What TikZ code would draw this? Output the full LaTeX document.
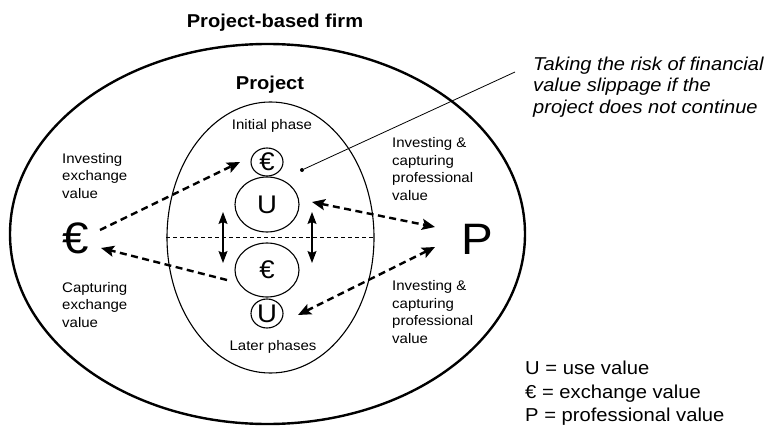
\documentclass[tikz,border=0pt]{standalone}
\usepackage{fontspec}
\setmainfont{Liberation Sans}[FakeStretch=1.08]
\usetikzlibrary{arrows.meta,shapes.geometric}
\begin{document}
\begin{tikzpicture}[x=1pt,y=-1pt,
  lbl/.style={font=\fontsize{13.9}{17.7}\selectfont, align=left, anchor=west, inner sep=0},
  phase/.style={font=\fontsize{13.9}{16}\selectfont, inner sep=0},
  heading/.style={font=\fontsize{18.6}{20}\selectfont\bfseries, inner sep=0},
  bigsym/.style={font=\fontsize{44}{44}\selectfont, inner sep=0},
  valcirc/.style={draw, ellipse, line width=1.1pt, inner sep=0, font=\fontsize{25.5}{25.5}\selectfont},
  thickdash/.style={line width=2.4pt, dash pattern=on 7pt off 4.5pt},
  tipend/.style={-{Stealth[length=13pt,width=11pt,inset=2.5pt]}},
  tipboth/.style={{Stealth[length=13pt,width=11pt,inset=2.5pt]}-{Stealth[length=13pt,width=11pt,inset=2.5pt]}},
  solidboth/.style={line width=1.1pt,{Stealth[length=12pt,width=9pt,inset=2pt]}-{Stealth[length=12pt,width=9pt,inset=2pt]}}
]
\useasboundingbox (0,0) rectangle (767,425);

% ellipses
\node[draw, ellipse, line width=2.4pt, minimum width=515pt, minimum height=380pt, inner sep=0] (firm) at (267.5,234) {};
\node[draw, ellipse, line width=1.1pt, minimum width=207pt, minimum height=271pt, inner sep=0] (project) at (270.5,237.5) {};

% headings
\node[heading] (firmtitle) at (275,23) {Project-based firm};
\node[heading] (projtitle) at (270,85) {Project};
\node[phase] (initial) at (272,126) {Initial phase};
\node[phase] (later) at (273,347) {Later phases};

% value circles
\node[valcirc, minimum width=32pt, minimum height=28pt] (euroA) at (267,162) {€};
\node[valcirc, minimum width=64pt, minimum height=55pt] (useA) at (267,204.5) {U};
\node[valcirc, minimum width=64pt, minimum height=54pt] (euroB) at (267,270) {€};
\node[valcirc, minimum width=32pt, minimum height=29pt] (useB) at (267,313.5) {U};

% phase separator
\draw[line width=0.8pt, dash pattern=on 4pt off 3pt] (project.west) -- (project.east);

% big symbols
\node[bigsym] (bigeuro) at (76,238) {€};
\node[bigsym] (bigp) at (477,239) {P};

% arrow end points
\coordinate (a1s) at (100,230);
\coordinate (a1e) at (240,162);
\coordinate (a2s) at (227,280);
\coordinate (a2e) at (101,248);
\coordinate (a3s) at (312,202);
\coordinate (a3e) at (435,227);
\coordinate (a4s) at (435,247);
\coordinate (a4e) at (298,315);
\coordinate (v1t) at (223,212);
\coordinate (v1b) at (223,263);
\coordinate (v2t) at (312,212);
\coordinate (v2b) at (312,263);

\draw[thickdash, tipend] (a1s) -- (a1e);
\draw[thickdash, tipend] (a2s) -- (a2e);
\draw[thickdash, tipboth] (a3s) -- (a3e);
\draw[thickdash, tipboth] (a4s) -- (a4e);
\draw[solidboth] (v1t) -- (v1b);
\draw[solidboth] (v2t) -- (v2b);

% labels
\node[lbl] (invex) at (62,176) {Investing\\exchange\\value};
\node[lbl] (capex) at (62,305) {Capturing\\exchange\\value};
\node[lbl] (invprofA) at (392,169) {Investing \&\\capturing\\professional\\value};
\node[lbl] (invprofB) at (392,312) {Investing \&\\capturing\\professional\\value};

% callout
\node[circle, fill, inner sep=0, minimum size=4pt] (dot) at (302,170) {};
\coordinate (callend) at (515,72);
\draw[line width=0.8pt] (dot) -- (callend);
\node[font=\fontsize{18.6}{21.5}\selectfont\itshape, align=left, anchor=west, inner sep=0] (risk) at (533,87)
  {Taking the risk of financial\\value slippage if the\\project does not continue};

% legend
\node[font=\fontsize{18.7}{23.5}\selectfont, align=left, anchor=west, inner sep=0] (legend) at (525,393.5)
  {U = use value\\€ = exchange value\\P = professional value};
\end{tikzpicture}
\end{document}
